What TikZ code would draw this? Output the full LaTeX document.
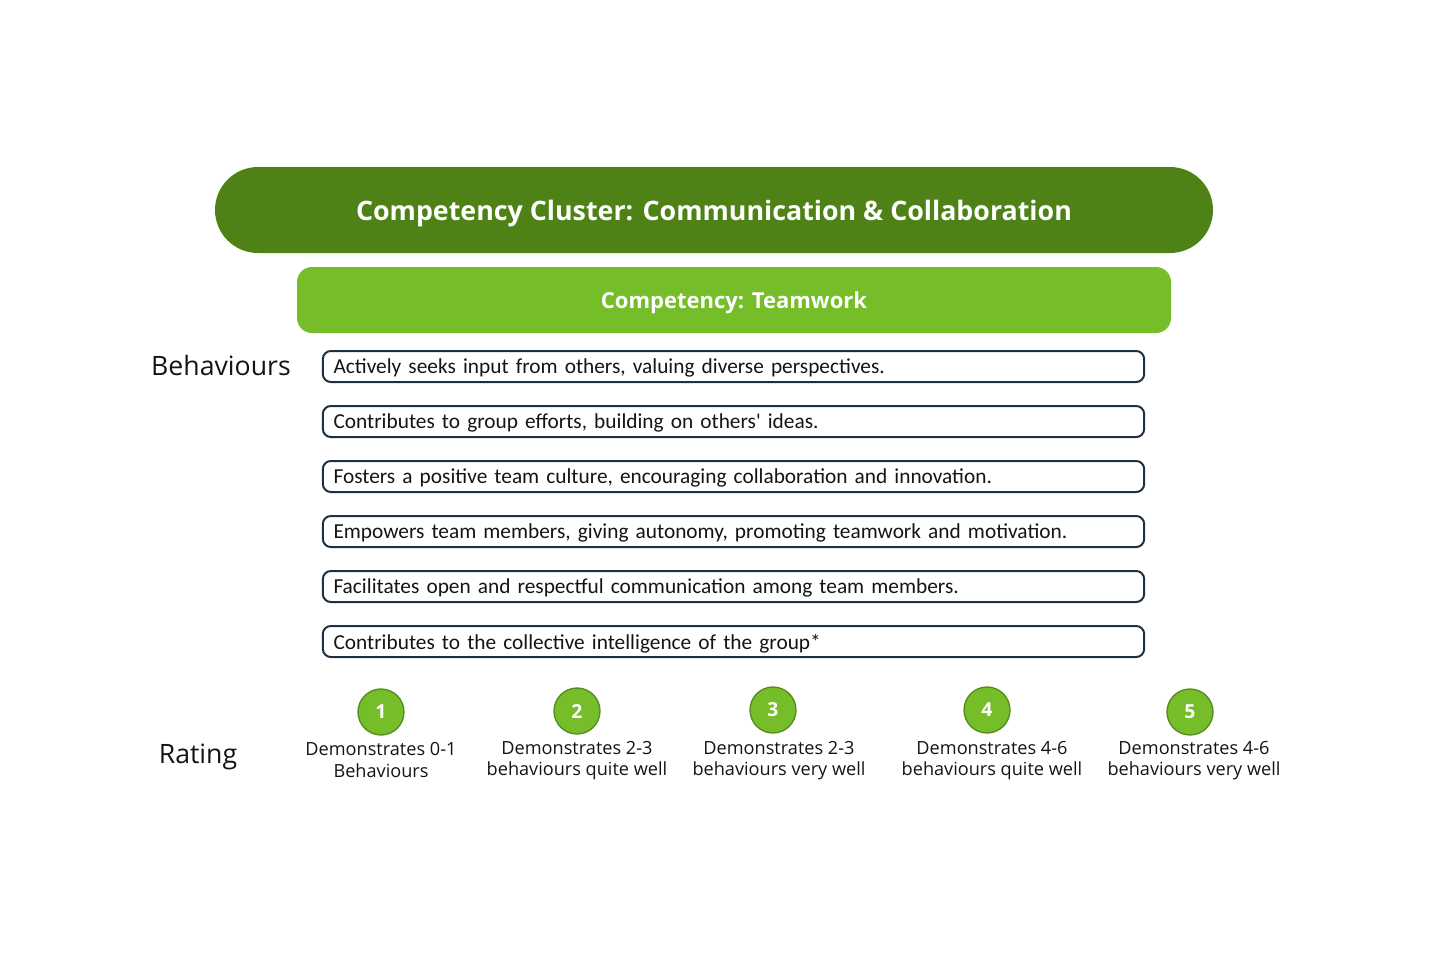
\documentclass[tikz,border=0pt]{standalone}
\usepackage{fontspec}
\setmainfont{Open Sans}
\newfontfamily\calfont{Carlito}
\definecolor{darkgreen}{RGB}{78,130,22}
\definecolor{lightgreen}{RGB}{118,189,42}
\definecolor{circborder}{RGB}{84,140,30}
\definecolor{navy}{RGB}{30,48,66}
\definecolor{txt}{RGB}{20,20,20}
\begin{document}
\begin{tikzpicture}[x=0.75pt,y=-0.75pt,
  cluster/.style={fill=darkgreen,text=white,minimum width=998*0.75pt,minimum height=86*0.75pt,rounded corners=43*0.75pt,text depth=0pt,font=\fontsize{20.1}{22}\selectfont\bfseries},
  comp/.style={fill=lightgreen,text=white,minimum width=874*0.75pt,minimum height=66*0.75pt,rounded corners=15*0.75pt,text depth=0pt,font=\fontsize{16.5}{18}\selectfont\bfseries},
  behav/.style={draw=navy,line width=1.5pt,rounded corners=6pt,minimum width=819*0.75pt,minimum height=31*0.75pt,text width=800*0.75pt,align=left,inner xsep=8pt,text depth=0pt,text=txt,font=\calfont\fontsize{16}{18}\selectfont},
  rate/.style={circle,fill=lightgreen,draw=circborder,line width=1pt,minimum size=46*0.75pt,inner sep=0pt,text=white,font=\fontsize{14.5}{15}\selectfont\bfseries},
  ratelbl/.style={align=center,text=txt,font=\fontsize{13.6}{15.8}\selectfont},
  sidelbl/.style={text=txt,font=\fontsize{20}{24}\selectfont}]
\useasboundingbox (0,0) rectangle (1440,960);
\node[cluster] (cl) at (714,210) {Competency Cluster: Communication \& Collaboration};
\node[comp] (cp) at (734,300) {Competency: Teamwork};
\node[sidelbl] (bh) at (221,365) {Behaviours};
\node[sidelbl] (rt) at (198,757) {Rating};
\node[behav] (b1) at (733.5,366.5) {Actively seeks input from others, valuing diverse perspectives.};
\node[behav] (b2) at (733.5,421.5) {Contributes to group efforts, building on others' ideas.};
\node[behav] (b3) at (733.5,476.5) {Fosters a positive team culture, encouraging collaboration and innovation.};
\node[behav] (b4) at (733.5,531.5) {Empowers team members, giving autonomy, promoting teamwork and motivation.};
\node[behav] (b5) at (733.5,586.5) {Facilitates open and respectful communication among team members.};
\node[behav] (b6) at (733.5,641.5) {Contributes to the collective intelligence of the group*};
\node[rate] (r1) at (381,712) {1};
\node[rate] (r2) at (577,711) {2};
\node[rate] (r3) at (773,710) {3};
\node[rate] (r4) at (987,710) {4};
\node[rate] (r5) at (1190,712) {5};
\node[ratelbl] (l1) at (381,760) {Demonstrates 0-1\\Behaviours};
\node[ratelbl] (l2) at (577,761) {Demonstrates 2-3\\behaviours quite well};
\node[ratelbl] (l3) at (779,761) {Demonstrates 2-3\\behaviours very well};
\node[ratelbl] (l4) at (992,761) {Demonstrates 4-6\\behaviours quite well};
\node[ratelbl] (l5) at (1194,761) {Demonstrates 4-6\\behaviours very well};
\end{tikzpicture}
\end{document}
